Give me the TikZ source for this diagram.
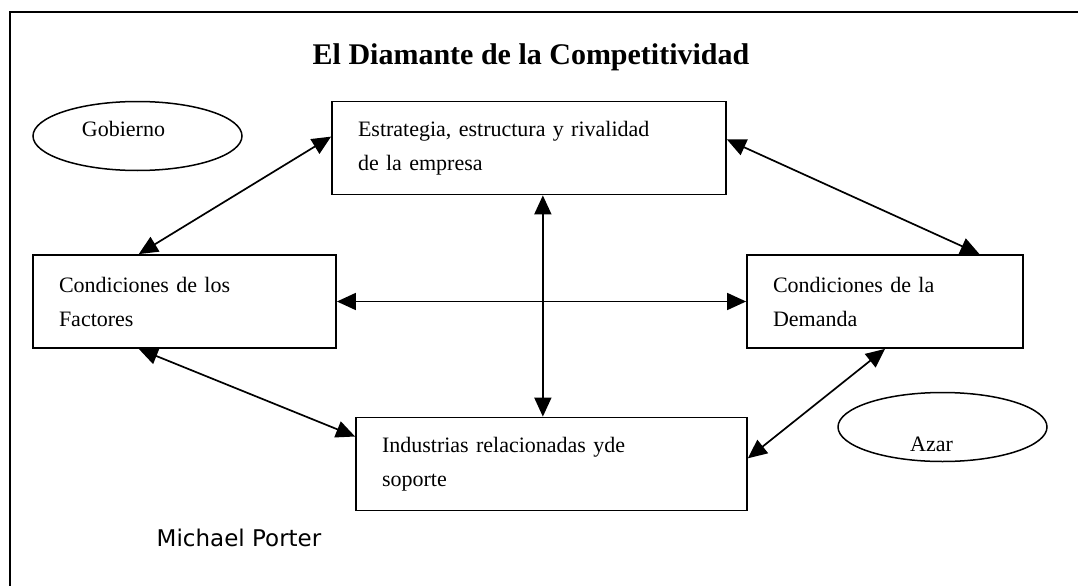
\documentclass[tikz,border=0pt]{standalone}
\usepackage{fontspec}
\setmainfont{Liberation Serif}
\newfontfamily\autorfont{DejaVu Sans}
\usetikzlibrary{arrows.meta}
\usetikzlibrary{calc}
\usetikzlibrary{shapes.geometric}

\tikzset{
  caja/.style={draw, line width=1.8pt, align=left, inner xsep=26pt, inner ysep=0pt, minimum height=93pt, font=\fontsize{22}{34}\selectfont},
  ovalo/.style={draw, ellipse, line width=1.5pt, minimum width=209pt, minimum height=69pt, inner sep=0pt},
  flecha/.style={line width=1.7pt, {Triangle[length=19pt,width=17pt]}-{Triangle[length=19pt,width=17pt]}},
}

\begin{document}
\begin{tikzpicture}[x=1pt, y=-1pt]
      \useasboundingbox (0,0) rectangle (1078,586);
      \draw[line width=2.5pt] (1078,12) -- (10,12) -- (10,586);

      \node[font=\fontsize{30}{30}\selectfont\bfseries, anchor=base] (titulo) at (531,64) {El Diamante de la Competitividad};

      \node[caja, text width=342pt] (est) at (529,148) {Estrategia, estructura y rivalidad\\de la empresa};
      \node[caja, text width=251pt] (fac) at (184.5,301.5) {Condiciones de los\\Factores};
      \node[caja, text width=224pt] (dem) at (885,301.5) {Condiciones de la\\Demanda};
      \node[caja, text width=339pt] (ind) at (551.5,464) {Industrias relacionadas yde\\soporte};

      \node[ovalo, label={[xshift=-14pt, yshift=7pt, font=\fontsize{22}{22}\selectfont]center:Gobierno}] (gob) at (137.5,136) {};
      \node[ovalo, label={[xshift=-11pt, yshift=-17pt, font=\fontsize{22}{22}\selectfont]center:Azar}] (azar) at (942.5,427) {};

      \coordinate (v) at ($(est.south west)!0.535!(est.south east)$);

      \draw[flecha] ($(fac.north west)!0.35!(fac.north east)$) -- ($(est.north west)!0.38!(est.south west)$);
      \draw[flecha] ($(est.north east)!0.41!(est.south east)$) -- ($(dem.north west)!0.84!(dem.north east)$);
      \draw[flecha] (fac.east) -- (dem.west);
      \draw[flecha] (v) -- (v |- ind.north);
      \draw[flecha] ($(fac.south west)!0.35!(fac.south east)$) -- ($(ind.north west)!0.21!(ind.south west)$);
      \draw[flecha] ($(ind.north east)!0.44!(ind.south east)$) -- (dem.south);

      \node[font=\autorfont\fontsize{23}{23}\selectfont, anchor=base] (autor) at (239,546) {Michael Porter};
    \end{tikzpicture}
\end{document}
